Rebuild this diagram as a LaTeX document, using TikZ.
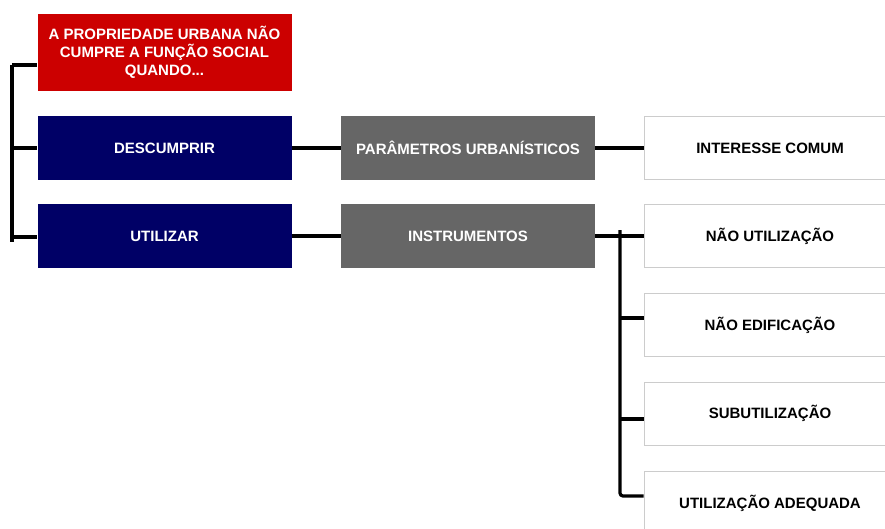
\documentclass[tikz,border=0pt]{standalone}
\usepackage{fontspec}
\setmainfont{Liberation Sans}
\definecolor{redbox}{HTML}{CC0000}
\definecolor{navybox}{HTML}{000066}
\definecolor{graybox}{HTML}{666666}
\definecolor{edgegray}{HTML}{CCCCCC}
\tikzset{
  basebox/.style={rectangle, inner sep=0pt, minimum width=254pt, minimum height=64pt,
    font=\fontsize{15}{18}\selectfont\bfseries, align=center},
  redstyle/.style={basebox, fill=redbox, text=white, minimum height=77pt},
  navystyle/.style={basebox, fill=navybox, text=white},
  graystyle/.style={basebox, fill=graybox, text=white},
  whitestyle/.style={basebox, fill=white, draw=edgegray, line width=1pt, text=black, minimum width=252pt, minimum height=63pt},
  conn/.style={draw=black, line width=3.2pt}
}
\begin{document}
\begin{tikzpicture}[x=1pt,y=-1pt]
\useasboundingbox (0,0) rectangle (885,528);
\clip (0,0) rectangle (885,528);
\fill[white] (0,0) rectangle (885,528);
% left column
\node[redstyle] (red) at (164.5,52.5) {A PROPRIEDADE URBANA NÃO\\CUMPRE A FUNÇÃO SOCIAL\\QUANDO...};
\node[navystyle] (desc) at (164.5,148) {DESCUMPRIR};
\node[navystyle] (util) at (164.5,236) {UTILIZAR};
% middle column
\node[graystyle] (param) at (468,148) {PARÂMETROS URBANÍSTICOS};
\node[graystyle] (instr) at (468,236) {INSTRUMENTOS};
% right column
\node[whitestyle] (inter) at (770,148) {INTERESSE COMUM};
\node[whitestyle] (naoutil) at (770,236) {NÃO UTILIZAÇÃO};
\node[whitestyle] (naoedif) at (770,325) {NÃO EDIFICAÇÃO};
\node[whitestyle] (subut) at (770,413.5) {SUBUTILIZAÇÃO};
\node[whitestyle, minimum height=64pt] (adeq) at (770,503) {UTILIZAÇÃO ADEQUADA};
% left bracket
\coordinate (lt) at (12,65);
\coordinate (lm) at (12,148);
\coordinate (lb) at (12,237);
\coordinate (lend) at (12,242);
\draw[conn] (lt) -- (lend);
\draw[conn] (lt) -- (red.west |- lt);
\draw[conn] (lm) -- (desc.west);
\draw[conn] (lb) -- (util.west |- lb);
% horizontal connectors
\draw[conn] (desc.east) -- (param.west);
\draw[conn] (param.east) -- (inter.west);
\draw[conn] (util.east) -- (instr.west);
\draw[conn] (instr.east) -- (naoutil.west);
% right bracket
\coordinate (rt) at (620,230);
\coordinate (r2) at (620,318);
\coordinate (r3) at (620,419);
\coordinate (r4) at (620,496);
\draw[conn, rounded corners=3pt] (rt) -- (r4) -- (adeq.west |- r4);
\draw[conn] (r2) -- (naoedif.west |- r2);
\draw[conn] (r3) -- (subut.west |- r3);
\end{tikzpicture}
\end{document}
